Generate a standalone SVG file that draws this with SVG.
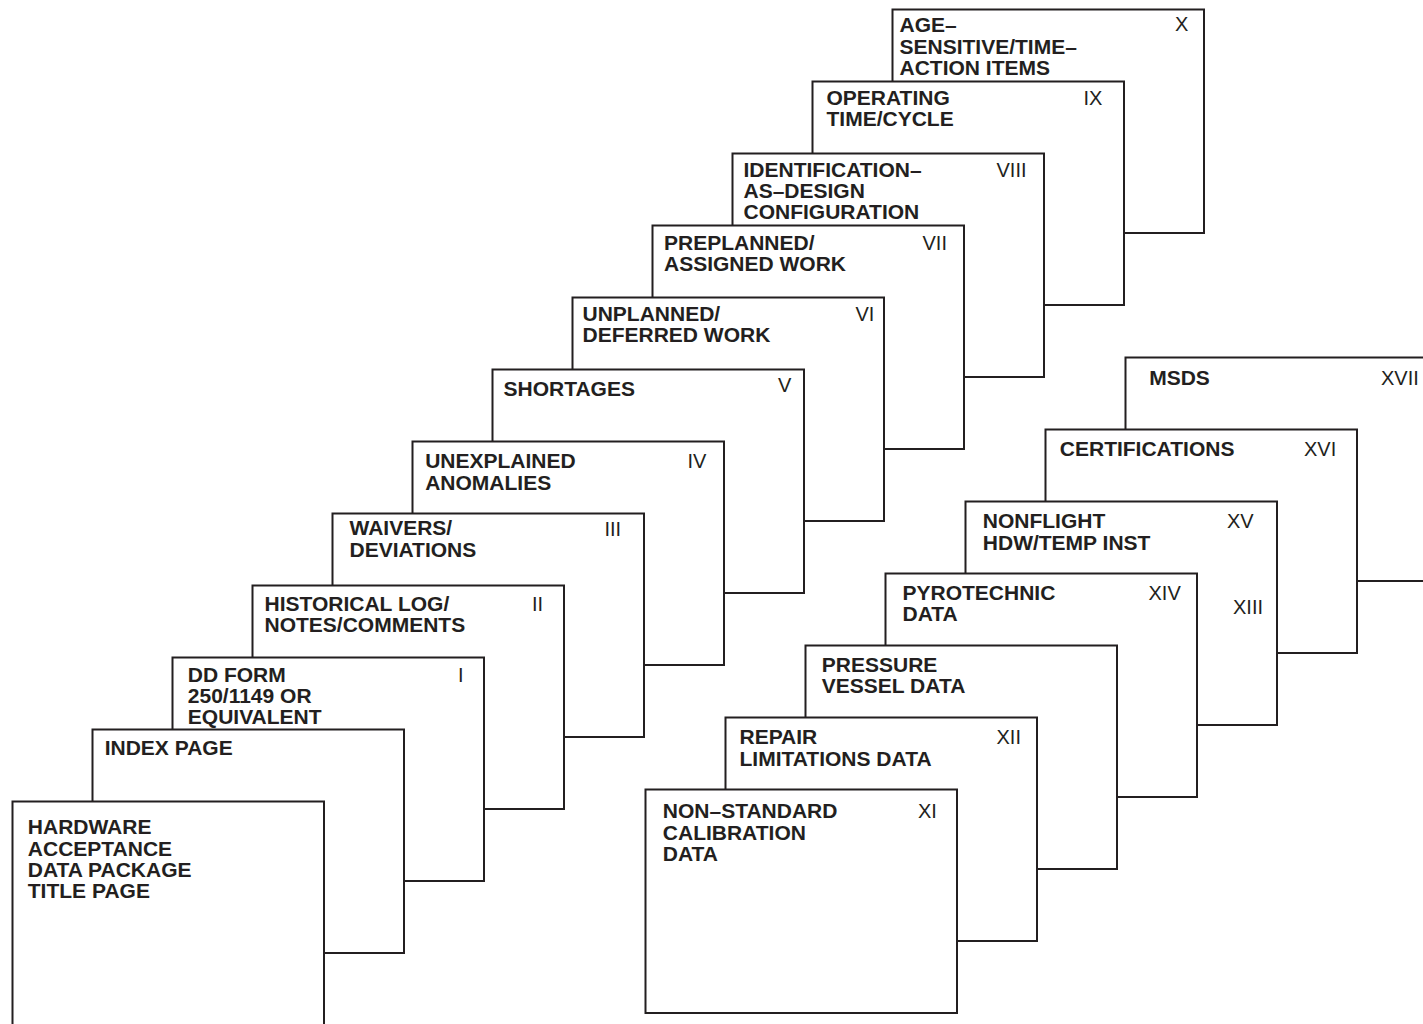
<svg xmlns="http://www.w3.org/2000/svg" width="1423" height="1024" viewBox="0 0 1423 1024">
<style>
.pg{fill:#fff;stroke:#231f20;stroke-width:2}
.t{font-family:"Liberation Sans",Arial,sans-serif;font-weight:bold;font-size:21px;fill:#231f20}
.n{font-family:"Liberation Sans",Arial,sans-serif;font-size:20px;fill:#231f20}
</style>
<rect width="1423" height="1024" fill="#fff"/>
<g id="stack-left">
<g id="page-x"><rect class="pg" x="892.5" y="9.5" width="311.5" height="223.5"/>
<text class="t" x="899.5" y="32.3">AGE–</text><text class="t" x="899.5" y="53.6">SENSITIVE/TIME–</text><text class="t" x="899.5" y="74.9">ACTION ITEMS</text>
<text class="n" x="1175" y="31">X</text></g>
<g id="page-ix"><rect class="pg" x="812.5" y="81.5" width="311.5" height="223.5"/>
<text class="t" x="826.5" y="105">OPERATING</text><text class="t" x="826.5" y="126.3">TIME/CYCLE</text>
<text class="n" x="1083.5" y="105">IX</text></g>
<g id="page-viii"><rect class="pg" x="732.5" y="153.5" width="311.5" height="223.5"/>
<text class="t" x="743.5" y="176.7">IDENTIFICATION–</text><text class="t" x="743.5" y="198">AS–DESIGN</text><text class="t" x="743.5" y="219.3">CONFIGURATION</text>
<text class="n" x="996.5" y="176.5">VIII</text></g>
<g id="page-vii"><rect class="pg" x="652.5" y="225.5" width="311.5" height="223.5"/>
<text class="t" x="664" y="250">PREPLANNED/</text><text class="t" x="664" y="271.3">ASSIGNED WORK</text>
<text class="n" x="922.5" y="250">VII</text></g>
<g id="page-vi"><rect class="pg" x="572.5" y="297.5" width="311.5" height="223.5"/>
<text class="t" x="582.5" y="321">UNPLANNED/</text><text class="t" x="582.5" y="342.3">DEFERRED WORK</text>
<text class="n" x="855.5" y="320.7">VI</text></g>
<g id="page-v"><rect class="pg" x="492.5" y="369.5" width="311.5" height="223.5"/>
<text class="t" x="503.5" y="395.7">SHORTAGES</text>
<text class="n" x="778" y="392.3">V</text></g>
<g id="page-iv"><rect class="pg" x="412.5" y="441.5" width="311.5" height="223.5"/>
<text class="t" x="425.2" y="468.3">UNEXPLAINED</text><text class="t" x="425.2" y="489.6">ANOMALIES</text>
<text class="n" x="687.5" y="467.7">IV</text></g>
<g id="page-iii"><rect class="pg" x="332.5" y="513.5" width="311.5" height="223.5"/>
<text class="t" x="349.5" y="535.3">WAIVERS/</text><text class="t" x="349.5" y="556.8">DEVIATIONS</text>
<text class="n" x="604.5" y="536">III</text></g>
<g id="page-ii"><rect class="pg" x="252.5" y="585.5" width="311.5" height="223.5"/>
<text class="t" x="264.5" y="610.5">HISTORICAL LOG/</text><text class="t" x="264.5" y="631.8">NOTES/COMMENTS</text>
<text class="n" x="532" y="611">II</text></g>
<g id="page-i"><rect class="pg" x="172.5" y="657.5" width="311.5" height="223.5"/>
<text class="t" x="187.8" y="681.7">DD FORM</text><text class="t" x="187.8" y="703">250/1149 OR</text><text class="t" x="187.8" y="724.3">EQUIVALENT</text>
<text class="n" x="458" y="681.5">I</text></g>
<g id="page-index"><rect class="pg" x="92.5" y="729.5" width="311.5" height="223.5"/>
<text class="t" x="104.7" y="755">INDEX PAGE</text></g>
<g id="page-title"><rect class="pg" x="12.5" y="801.5" width="311.5" height="223.5"/>
<text class="t" x="27.8" y="834.3">HARDWARE</text><text class="t" x="27.8" y="855.6">ACCEPTANCE</text><text class="t" x="27.8" y="876.9">DATA PACKAGE</text><text class="t" x="27.8" y="898.2">TITLE PAGE</text></g>
</g>
<g id="stack-right">
<g id="page-xvii"><rect class="pg" x="1125.5" y="357.5" width="311.5" height="223.5"/>
<text class="t" x="1149.2" y="385">MSDS</text>
<text class="n" x="1381" y="384.5">XVII</text></g>
<g id="page-xvi"><rect class="pg" x="1045.5" y="429.5" width="311.5" height="223.5"/>
<text class="t" x="1059.8" y="455.7">CERTIFICATIONS</text>
<text class="n" x="1304" y="455.7">XVI</text></g>
<g id="page-xv"><rect class="pg" x="965.5" y="501.5" width="311.5" height="223.5"/>
<text class="t" x="982.8" y="528.3">NONFLIGHT</text><text class="t" x="982.8" y="549.6">HDW/TEMP INST</text>
<text class="n" x="1227" y="527.7">XV</text>
<text class="n" x="1233" y="614">XIII</text></g>
<g id="page-xiv"><rect class="pg" x="885.5" y="573.5" width="311.5" height="223.5"/>
<text class="t" x="902.5" y="599.5">PYROTECHNIC</text><text class="t" x="902.5" y="620.8">DATA</text>
<text class="n" x="1148.5" y="600">XIV</text></g>
<g id="page-pressure"><rect class="pg" x="805.5" y="645.5" width="311.5" height="223.5"/>
<text class="t" x="821.8" y="671.7">PRESSURE</text><text class="t" x="821.8" y="693">VESSEL DATA</text></g>
<g id="page-xii"><rect class="pg" x="725.5" y="717.5" width="311.5" height="223.5"/>
<text class="t" x="739.5" y="744.3">REPAIR</text><text class="t" x="739.5" y="765.6">LIMITATIONS DATA</text>
<text class="n" x="996.5" y="744.3">XII</text></g>
<g id="page-xi"><rect class="pg" x="645.5" y="789.5" width="311.5" height="223.5"/>
<text class="t" x="662.8" y="818.3">NON–STANDARD</text><text class="t" x="662.8" y="839.6">CALIBRATION</text><text class="t" x="662.8" y="860.9">DATA</text>
<text class="n" x="918" y="818.3">XI</text></g>
</g>
<g id="connectors"/>
</svg>
